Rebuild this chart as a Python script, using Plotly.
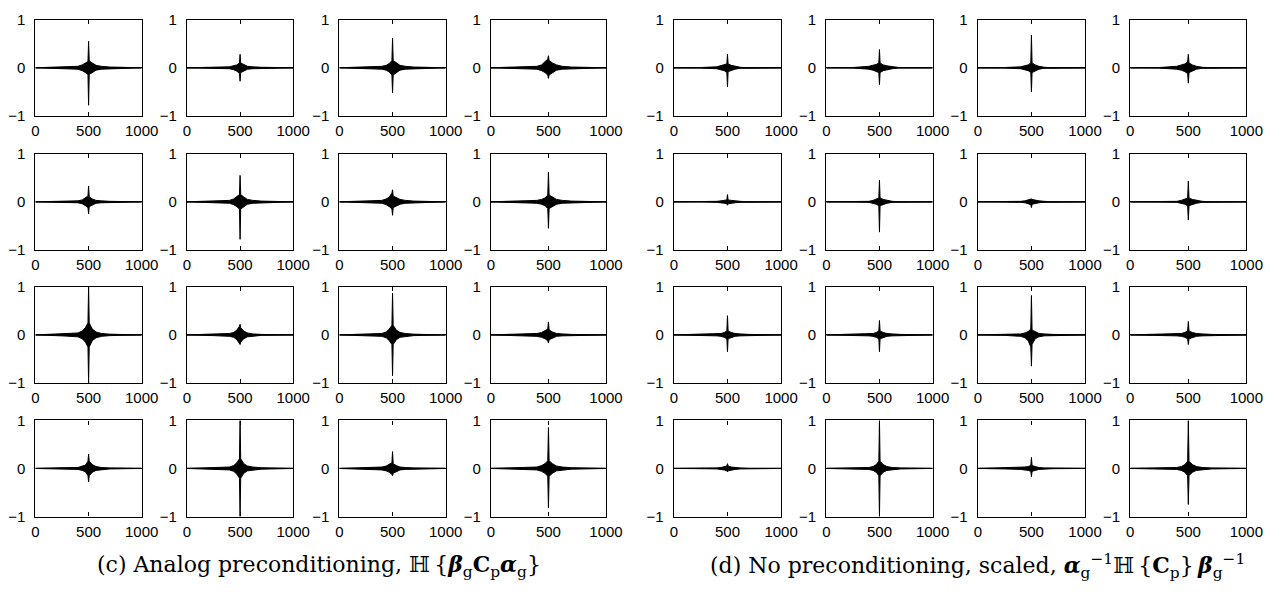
import plotly.graph_objects as go

# ---------------- data ----------------
X_ENV = [0, 100, 250, 400, 440, 470, 494, 500, 506, 535, 570, 620, 700, 1000]

# (c) Analog preconditioning: upper / lower envelopes, row-major 4x4
UPPER_C = [
    [0, .01, .015, .03, .06, .10, .13, .55, .14, .10, .05, .03, .015, 0],
    [0, .01, .012, .02, .04, .06, .10, .28, .10, .06, .03, .02, .01, 0],
    [0, .01, .015, .03, .05, .09, .15, .62, .15, .10, .05, .03, .015, 0],
    [0, .01, .015, .03, .06, .12, .18, .25, .15, .10, .06, .03, .015, 0],
    [0, .005, .01, .02, .04, .08, .12, .33, .10, .06, .03, .02, .01, 0],
    [0, .01, .015, .03, .06, .10, .15, .55, .15, .10, .05, .03, .015, 0],
    [0, .01, .015, .03, .06, .10, .18, .25, .12, .08, .05, .03, .015, 0],
    [0, .01, .015, .03, .05, .08, .14, .62, .14, .10, .05, .03, .015, 0],
    [0, .01, .02, .04, .08, .15, .25, 1.0, .25, .12, .06, .03, .015, 0],
    [0, .01, .015, .03, .05, .10, .18, .22, .15, .08, .04, .02, .01, 0],
    [0, .01, .02, .03, .06, .12, .20, .87, .20, .10, .05, .03, .015, 0],
    [0, .01, .015, .03, .05, .08, .12, .27, .10, .06, .03, .02, .01, 0],
    [0, .01, .015, .02, .04, .07, .15, .30, .15, .08, .04, .02, .01, 0],
    [0, .01, .015, .03, .06, .12, .20, 1.0, .20, .10, .05, .03, .015, 0],
    [0, .01, .015, .03, .05, .08, .12, .35, .10, .06, .03, .02, .01, 0],
    [0, .01, .015, .03, .06, .10, .16, .85, .16, .10, .05, .03, .015, 0],
]
LOWER_C = [
    [0, -.01, -.015, -.03, -.06, -.10, -.14, -.78, -.14, -.10, -.05, -.03, -.015, 0],
    [0, -.01, -.012, -.02, -.04, -.07, -.12, -.28, -.10, -.06, -.03, -.02, -.01, 0],
    [0, -.01, -.015, -.03, -.05, -.09, -.15, -.52, -.15, -.10, -.05, -.03, -.015, 0],
    [0, -.01, -.015, -.03, -.06, -.10, -.15, -.22, -.15, -.10, -.05, -.03, -.015, 0],
    [0, -.005, -.01, -.02, -.04, -.08, -.12, -.25, -.10, -.06, -.03, -.02, -.01, 0],
    [0, -.01, -.015, -.03, -.06, -.10, -.15, -.78, -.15, -.10, -.05, -.03, -.015, 0],
    [0, -.01, -.015, -.03, -.06, -.10, -.15, -.28, -.12, -.08, -.05, -.03, -.015, 0],
    [0, -.01, -.015, -.03, -.05, -.08, -.14, -.55, -.14, -.10, -.05, -.03, -.015, 0],
    [0, -.01, -.02, -.04, -.08, -.15, -.25, -1.0, -.25, -.12, -.06, -.03, -.015, 0],
    [0, -.01, -.015, -.03, -.05, -.10, -.18, -.20, -.15, -.08, -.04, -.02, -.01, 0],
    [0, -.01, -.02, -.03, -.06, -.12, -.20, -.85, -.20, -.10, -.05, -.03, -.015, 0],
    [0, -.01, -.015, -.03, -.05, -.08, -.12, -.17, -.10, -.06, -.03, -.02, -.01, 0],
    [0, -.01, -.015, -.02, -.04, -.07, -.15, -.28, -.15, -.08, -.04, -.02, -.01, 0],
    [0, -.01, -.015, -.03, -.06, -.12, -.20, -1.0, -.20, -.10, -.05, -.03, -.015, 0],
    [0, -.01, -.015, -.03, -.05, -.08, -.12, -.15, -.10, -.06, -.03, -.02, -.01, 0],
    [0, -.01, -.015, -.03, -.06, -.10, -.16, -.82, -.16, -.10, -.05, -.03, -.015, 0],
]

# (d) No preconditioning, scaled
UPPER_D = [
    [0, 0, .005, .02, .04, .06, .08, .28, .08, .05, .03, .01, 0, 0],
    [0, 0, .005, .03, .05, .07, .10, .38, .10, .06, .04, .02, 0, 0],
    [0, 0, .005, .02, .04, .06, .10, .68, .10, .06, .03, .01, 0, 0],
    [0, 0, .005, .03, .05, .08, .12, .28, .10, .06, .03, .01, 0, 0],
    [0, 0, 0, .01, .02, .03, .04, .15, .04, .03, .02, .01, 0, 0],
    [0, 0, .005, .01, .03, .05, .08, .45, .08, .05, .03, .01, 0, 0],
    [0, 0, 0, .01, .02, .04, .06, .06, .05, .03, .02, .01, 0, 0],
    [0, 0, .005, .01, .03, .05, .08, .43, .08, .05, .03, .01, 0, 0],
    [0, .005, .01, .02, .03, .05, .08, .40, .08, .05, .03, .02, .01, 0],
    [0, .005, .01, .02, .03, .05, .08, .30, .08, .05, .03, .02, .01, 0],
    [0, .005, .01, .02, .04, .07, .12, .82, .10, .06, .03, .02, .01, 0],
    [0, .005, .01, .02, .03, .05, .08, .28, .08, .05, .03, .02, .01, 0],
    [0, 0, .005, .01, .02, .03, .05, .10, .05, .03, .02, .01, 0, 0],
    [0, .005, .01, .02, .04, .08, .15, 1.0, .15, .08, .04, .02, .01, 0],
    [0, .005, .01, .02, .03, .04, .06, .23, .06, .04, .02, .01, .005, 0],
    [0, .005, .01, .02, .04, .08, .15, 1.0, .15, .08, .04, .02, .01, 0],
]
LOWER_D = [
    [0, 0, -.005, -.02, -.04, -.06, -.10, -.40, -.08, -.05, -.03, -.01, 0, 0],
    [0, 0, -.005, -.03, -.05, -.07, -.10, -.35, -.10, -.06, -.04, -.02, 0, 0],
    [0, 0, -.005, -.02, -.04, -.06, -.10, -.50, -.10, -.06, -.03, -.01, 0, 0],
    [0, 0, -.005, -.03, -.05, -.08, -.12, -.32, -.10, -.06, -.03, -.01, 0, 0],
    [0, 0, 0, -.01, -.02, -.03, -.04, -.07, -.04, -.03, -.02, -.01, 0, 0],
    [0, 0, -.005, -.01, -.03, -.05, -.08, -.63, -.08, -.05, -.03, -.01, 0, 0],
    [0, 0, 0, -.01, -.02, -.04, -.06, -.12, -.05, -.03, -.02, -.01, 0, 0],
    [0, 0, -.005, -.01, -.03, -.05, -.08, -.38, -.08, -.05, -.03, -.01, 0, 0],
    [0, -.005, -.01, -.02, -.03, -.05, -.08, -.35, -.08, -.05, -.03, -.02, -.01, 0],
    [0, -.005, -.01, -.02, -.03, -.05, -.08, -.35, -.08, -.05, -.03, -.02, -.01, 0],
    [0, -.005, -.01, -.03, -.06, -.12, -.25, -.65, -.20, -.08, -.04, -.02, -.01, 0],
    [0, -.005, -.01, -.02, -.03, -.05, -.08, -.20, -.08, -.05, -.03, -.02, -.01, 0],
    [0, 0, -.005, -.01, -.02, -.03, -.05, -.07, -.05, -.03, -.02, -.01, 0, 0],
    [0, -.005, -.01, -.02, -.04, -.08, -.15, -1.0, -.15, -.08, -.04, -.02, -.01, 0],
    [0, -.005, -.01, -.02, -.03, -.04, -.06, -.17, -.06, -.04, -.02, -.01, -.005, 0],
    [0, -.005, -.01, -.02, -.04, -.08, -.15, -.75, -.15, -.08, -.04, -.02, -.01, 0],
]

X_TICKS = [0, 500, 1000]
X_TICKTEXT = ["0", "500", "1000"]
Y_TICKS = [-1, 0, 1]
Y_TICKTEXT = ["\u22121", "0", "1"]

CAPTION_C = ("(c) Analog preconditioning, \u210d\u2009{<b><i>\u03b2</i></b><sub>g</sub>"
             "<b>C</b><sub>p</sub><b><i>\u03b1</i></b><sub>g</sub>}")
CAPTION_D = ("(d) No preconditioning, scaled, <b><i>\u03b1</i></b><sub>g</sub><sup>\u22121</sup>"
             "\u210d\u2009{<b>C</b><sub>p</sub>}\u2009<b><i>\u03b2</i></b><sub>g</sub><sup>\u22121</sup>")

# ---------------- layout geometry (pixels) ----------------
W, H = 1285, 594
COLS_LEFT = [(32, 108), (186, 108), (341, 108), (495, 117)]
COLS_RIGHT = [(681, 109), (836, 108), (990, 109), (1145, 118)]
ROW_TOPS = [11, 149, 286, 423.5]
ROW_H = 99

fig = go.Figure()
layout = {}
tick_font = dict(family="Liberation Sans, Arial, sans-serif", size=15, color="black")

panels = []
for group, cols, ups, los in (("c", COLS_LEFT, UPPER_C, LOWER_C), ("d", COLS_RIGHT, UPPER_D, LOWER_D)):
    for r in range(4):
        for c in range(4):
            panels.append((cols[c], ROW_TOPS[r], ups[r * 4 + c], los[r * 4 + c]))

for i, ((left, width), top, up, lo) in enumerate(panels):
    n = i + 1
    xa = "x" if n == 1 else f"x{n}"
    ya = "y" if n == 1 else f"y{n}"
    xkey = "xaxis" if n == 1 else f"xaxis{n}"
    ykey = "yaxis" if n == 1 else f"yaxis{n}"
    # zero baseline of the signal
    fig.add_trace(go.Scatter(x=[X_ENV[0], X_ENV[-1]], y=[0, 0], mode="lines",
                             line=dict(color="black", width=1.3), xaxis=xa, yaxis=ya,
                             hoverinfo="skip", showlegend=False))
    # dense oscillation envelope
    fig.add_trace(go.Scatter(x=X_ENV + X_ENV[::-1], y=up + lo[::-1], mode="lines",
                             fill="toself", fillcolor="black",
                             line=dict(color="black", width=1.0), xaxis=xa, yaxis=ya,
                             hoverinfo="skip", showlegend=False))
    common = dict(showline=True, linecolor="black", linewidth=1.3, mirror="allticks",
                  ticks="inside", ticklen=4, tickwidth=1, tickcolor="black",
                  showgrid=False, zeroline=False, tickfont=tick_font, fixedrange=True)
    layout[xkey] = dict(domain=[left / W, (left + width) / W], anchor=ya,
                        range=[0, 1000], tickvals=X_TICKS, ticktext=X_TICKTEXT,
                        ticklabelstandoff=1, **common)
    layout[ykey] = dict(domain=[1 - (top + ROW_H) / H, 1 - top / H], anchor=xa,
                        range=[-1, 1], tickvals=Y_TICKS, ticktext=Y_TICKTEXT,
                        ticklabelstandoff=6, **common)

cap_font = dict(family="'DejaVu Serif', 'Liberation Serif', serif", size=22, color="black")
annotations = [
    dict(text=CAPTION_C, x=320 / W, y=1 - 573 / H, xref="paper", yref="paper",
         showarrow=False, xanchor="center", yanchor="middle", font=cap_font),
    dict(text=CAPTION_D, x=990 / W, y=1 - 573 / H, xref="paper", yref="paper",
         showarrow=False, xanchor="center", yanchor="middle", font=cap_font),
]

fig.update_layout(width=W, height=H, margin=dict(l=0, r=0, t=0, b=0),
                  paper_bgcolor="white", plot_bgcolor="white",
                  annotations=annotations, **layout)

fig.write_html("out.html")
